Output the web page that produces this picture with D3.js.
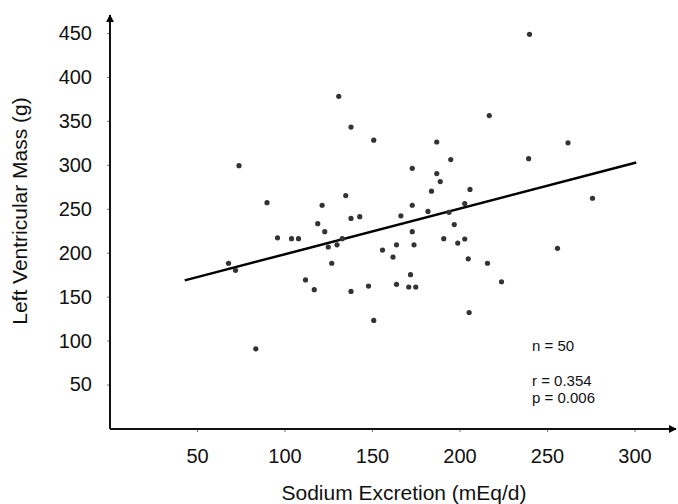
<!DOCTYPE html>
<html><head><meta charset="utf-8">
<script src="https://cdn.jsdelivr.net/npm/d3@7"></script>
<style>
html,body{margin:0;padding:0;background:#fff;}
svg{display:block;font-family:"Liberation Sans",Arial,Helvetica,sans-serif;}
</style></head>
<body>
<svg id="chart" width="678" height="504"></svg>
<script>
// Data
const sodium = [74,90,131,138,151,187,217,195,173,187,189,184,206,135,121.5,173,203,182,138,143,166.5,194,240,262,239.5,276,96,104,108,68,72,83.6,119,123,133,125,130,173,197,191,203,199,174,164,156,162,205,216,127,112,117,138,148,164,172,171,175,151,205.5,256,224];
const lvMass = [299,257,378,343,328,326,356,306,296,290,281,270,272,265,254,254,256,247,239,241,242,246,448.5,325,307,262,217,216,216,188,180,90.6,233,224,216,206.5,209,224,232,216,215.6,211,209,209,203,195,193,188,188,169,158,156,162,164,175,161,161,123,132,205,167];
const xTicks = [50,100,150,200,250,300];
const yTicks = [50,100,150,200,250,300,350,400,450];
const fitLine = [[43,168.5],[301,302.6]];
const statsText = ["n = 50","r = 0.354","p = 0.006"];

const svg = d3.select("#chart");
const x = d3.scaleLinear().domain([0,300]).range([109.5,634.5]);
const y = d3.scaleLinear().domain([0,450]).range([428.5,33]);

// axes ticks + labels
const gx = svg.append("g").attr("transform","translate(0,429)")
  .call(d3.axisBottom(x).tickValues(xTicks).tickSize(3).tickPadding(17).tickFormat(d3.format("d")));
const gy = svg.append("g").attr("transform","translate(110,0)")
  .call(d3.axisLeft(y).tickValues(yTicks).tickSize(3).tickPadding(15).tickFormat(d3.format("d")));
[gx,gy].forEach(g=>{
  g.select(".domain").remove();
  g.selectAll(".tick line").attr("stroke","#777").attr("stroke-width",1);
  g.selectAll(".tick text").attr("font-size",20).attr("fill","#111")
   .attr("font-family","'Liberation Sans',Arial,sans-serif");
});

// axis lines with arrows
const defs = svg.append("defs");
defs.append("marker").attr("id","arr").attr("viewBox","0 0 10 10").attr("refX",9).attr("refY",5)
  .attr("markerWidth",4).attr("markerHeight",4).attr("orient","auto")
  .append("path").attr("d","M0,0L10,5L0,10z").attr("fill","#000");
svg.append("line").attr("x1",110).attr("y1",429).attr("x2",676).attr("y2",429)
  .attr("stroke","#111").attr("stroke-width",2).attr("marker-end","url(#arr)");
svg.append("line").attr("x1",110).attr("y1",429).attr("x2",110).attr("y2",15)
  .attr("stroke","#111").attr("stroke-width",2).attr("marker-end","url(#arr)");

// regression line
svg.append("path").datum(fitLine)
  .attr("d", d3.line().x(d=>x(d[0])).y(d=>y(d[1])))
  .attr("stroke","#000").attr("stroke-width",2.5).attr("fill","none");

// points
svg.append("g").selectAll("circle").data(sodium.map((s,i)=>[s,lvMass[i]])).join("circle")
  .attr("cx",d=>x(d[0])).attr("cy",d=>y(d[1])).attr("r",2.6).attr("fill","#333");

// stats text
const statsY = [350.5,385.5,402.5];
svg.append("g").selectAll("text").data(statsText).join("text")
  .attr("x",532).attr("y",(d,i)=>statsY[i]).attr("font-size",15).attr("fill","#111").text(d=>d);

// titles
svg.append("text").attr("x",404).attr("y",500).attr("text-anchor","middle")
  .attr("font-size",21).attr("fill","#111").text("Sodium Excretion (mEq/d)");
svg.append("text").attr("transform","translate(27,211) rotate(-90)").attr("text-anchor","middle")
  .attr("font-size",21).attr("fill","#111").text("Left Ventricular Mass (g)");
</script>
</body></html>
